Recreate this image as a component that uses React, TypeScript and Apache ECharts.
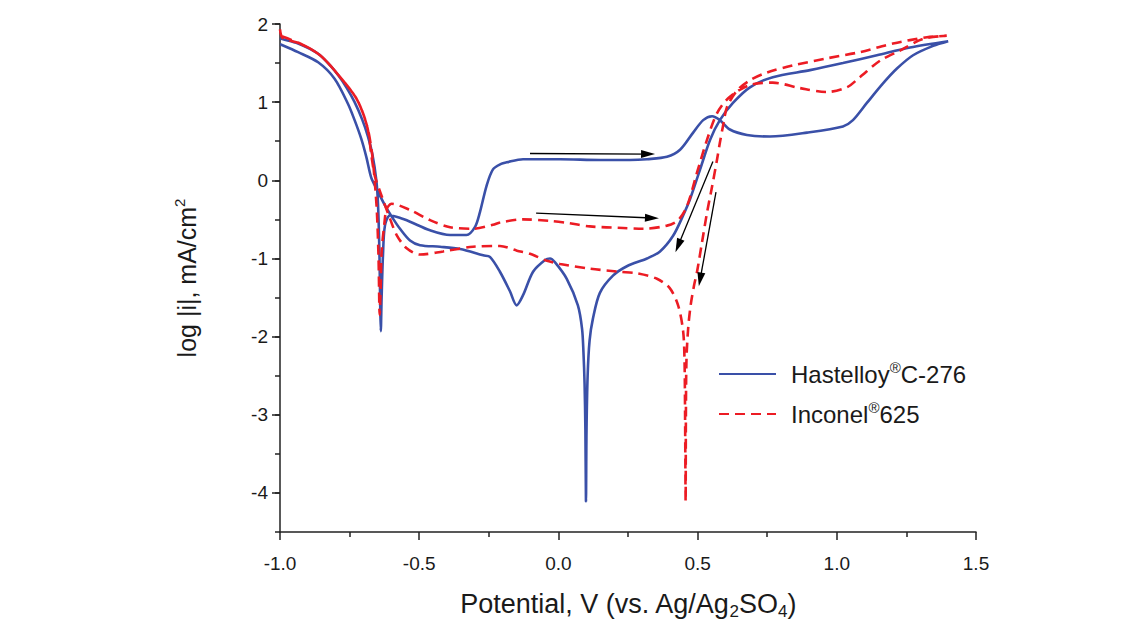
import React, { useEffect, useRef } from "react";
import * as echarts from "echarts";

const seriesNames = ["Hastelloy®C-276", "Inconel®625"];

// Hastelloy C-276: forward then reverse scan, [potential V, log|i|]
const hastelloy: number[][] = [
  [-1.0, 1.82], [-0.995, 1.81], [-0.935, 1.75], [-0.863, 1.62], [-0.82, 1.47],
  [-0.79, 1.34], [-0.76, 1.18], [-0.732, 1.0], [-0.705, 0.78], [-0.684, 0.56],
  [-0.668, 0.33], [-0.654, 0.0], [-0.648, -0.3], [-0.643, -0.9], [-0.64, -1.6],
  [-0.638, -1.93], [-0.635, -1.5], [-0.63, -0.95], [-0.623, -0.58], [-0.605, -0.45],
  [-0.57, -0.48], [-0.533, -0.53], [-0.461, -0.64], [-0.389, -0.7], [-0.33, -0.7],
  [-0.3, -0.6], [-0.282, -0.41], [-0.258, -0.07], [-0.235, 0.14], [-0.206, 0.21],
  [-0.186, 0.23], [-0.127, 0.27], [0.006, 0.27], [0.15, 0.26], [0.257, 0.26],
  [0.318, 0.27], [0.39, 0.3], [0.437, 0.39], [0.484, 0.61], [0.52, 0.77],
  [0.552, 0.82], [0.58, 0.77], [0.616, 0.65], [0.677, 0.58], [0.76, 0.56],
  [0.893, 0.61], [1.022, 0.69], [1.058, 0.77], [1.108, 0.99], [1.166, 1.24],
  [1.216, 1.43], [1.274, 1.6], [1.346, 1.72], [1.4, 1.78],
  [1.263, 1.7], [1.144, 1.6], [1.022, 1.5], [0.904, 1.41], [0.77, 1.32],
  [0.688, 1.19], [0.627, 0.99], [0.58, 0.77], [0.545, 0.52], [0.509, 0.14],
  [0.473, -0.24], [0.448, -0.45], [0.412, -0.71], [0.365, -0.91], [0.318, -1.0],
  [0.246, -1.1], [0.196, -1.22], [0.149, -1.44], [0.124, -1.77], [0.112, -2.05],
  [0.105, -2.5], [0.101, -3.2], [0.099, -4.11], [0.097, -3.2], [0.094, -2.6],
  [0.09, -2.2], [0.085, -1.9], [0.07, -1.6], [0.03, -1.26], [-0.012, -1.05],
  [-0.03, -1.0], [-0.048, -1.02], [-0.091, -1.17], [-0.127, -1.47], [-0.15, -1.6],
  [-0.174, -1.42], [-0.21, -1.17], [-0.246, -0.98], [-0.27, -0.96], [-0.353, -0.88],
  [-0.425, -0.85], [-0.497, -0.83], [-0.533, -0.77], [-0.569, -0.62], [-0.594, -0.49],
  [-0.623, -0.32], [-0.653, -0.11], [-0.672, 0.03], [-0.69, 0.3], [-0.708, 0.53],
  [-0.732, 0.77], [-0.756, 0.98], [-0.804, 1.3], [-0.863, 1.51], [-0.935, 1.64],
  [-0.995, 1.735], [-1.0, 1.74],
];

// Inconel 625: forward then reverse scan
const inconel: number[][] = [
  [-1.0, 1.93], [-0.99, 1.82], [-0.928, 1.75], [-0.856, 1.6], [-0.784, 1.32],
  [-0.723, 1.03], [-0.687, 0.69], [-0.67, 0.36], [-0.66, 0.0], [-0.652, -0.4],
  [-0.646, -1.0], [-0.642, -1.72], [-0.638, -1.3], [-0.635, -0.92], [-0.625, -0.55],
  [-0.617, -0.37], [-0.599, -0.3], [-0.533, -0.38], [-0.461, -0.51], [-0.389, -0.6],
  [-0.307, -0.62], [-0.235, -0.57], [-0.21, -0.54], [-0.127, -0.5], [-0.03, -0.52],
  [0.04, -0.55], [0.113, -0.59], [0.232, -0.61], [0.304, -0.62], [0.39, -0.58],
  [0.43, -0.51], [0.462, -0.33], [0.498, 0.1], [0.534, 0.52], [0.57, 0.86],
  [0.616, 1.07], [0.688, 1.22], [0.77, 1.25], [0.868, 1.18], [0.964, 1.13],
  [1.036, 1.19], [1.083, 1.32], [1.155, 1.53], [1.227, 1.66], [1.31, 1.81],
  [1.395, 1.85],
  [1.324, 1.83], [1.202, 1.75], [1.083, 1.64], [0.964, 1.56], [0.843, 1.47],
  [0.75, 1.38], [0.688, 1.28], [0.642, 1.15], [0.606, 0.94], [0.591, 0.69],
  [0.58, 0.48], [0.57, 0.27], [0.552, -0.08], [0.534, -0.41], [0.516, -0.79],
  [0.498, -1.17], [0.487, -1.35], [0.475, -1.6], [0.466, -1.9], [0.46, -2.3],
  [0.458, -3.0], [0.457, -4.11], [0.455, -3.0], [0.453, -2.3], [0.448, -1.93],
  [0.43, -1.6], [0.4, -1.38], [0.354, -1.26], [0.282, -1.19], [0.221, -1.17],
  [0.113, -1.13], [0.006, -1.07], [-0.041, -1.03], [-0.102, -0.94], [-0.149, -0.9],
  [-0.21, -0.84], [-0.307, -0.85], [-0.414, -0.91], [-0.497, -0.95], [-0.545, -0.87],
  [-0.581, -0.7], [-0.605, -0.49], [-0.635, -0.2], [-0.659, 0.05], [-0.671, 0.3],
  [-0.687, 0.69], [-0.723, 1.03], [-0.784, 1.32], [-0.856, 1.6], [-0.928, 1.75],
  [-1.0, 1.85],
];

// Scan-direction arrows: [start, end] in data coordinates
const arrows: number[][][] = [
  [[-0.102, 0.343], [0.322, 0.336]],
  [[-0.08, -0.419], [0.336, -0.482]],
  [[0.555, 0.241], [0.43, -0.838]],
  [[0.566, -0.152], [0.509, -1.269]],
];

const xTicks = [-1.0, -0.5, 0.0, 0.5, 1.0, 1.5];
const yTicks = [-4, -3, -2, -1, 0, 1, 2];

const FONT = "'Liberation Sans', Arial, Helvetica, sans-serif";
const TEXT = "#1a1a1a";
const BLUE = "#3a50a8";
const RED = "#ec1c24";

export default function App() {
  const ref = useRef<HTMLDivElement>(null);
  useEffect(() => {
    if (!ref.current) return;
    const chart = echarts.init(ref.current, undefined, { renderer: "svg" });
    const option: any = {
      animation: false,
      backgroundColor: "#ffffff",
      textStyle: { fontFamily: FONT },
      grid: { left: 280, right: 162, top: 24, bottom: 90, containLabel: false },
      legend: {
        orient: "vertical",
        left: 718,
        top: 360,
        padding: 0,
        itemWidth: 57,
        itemHeight: 14,
        itemGap: 14,
        data: seriesNames,
        selectedMode: false,
        itemStyle: { opacity: 0, color: "rgba(0,0,0,0)", borderWidth: 0 },
        formatter: (name: string) => {
          const parts = name.split("®");
          return `{h|${parts[0]}}{s|®}{t|${parts[1]}}`;
        },
        textStyle: {
          fontFamily: FONT,
          fontSize: 24,
          color: TEXT,
          rich: {
            h: { fontSize: 24, lineHeight: 28, color: TEXT, fontFamily: FONT, padding: [0, 0, 0, 10] },
            t: { fontSize: 24, lineHeight: 28, color: TEXT, fontFamily: FONT },
            s: { fontSize: 15, lineHeight: 15, color: TEXT, fontFamily: FONT, verticalAlign: "top" },
          },
        },
      },
      xAxis: {
        type: "value",
        min: -1,
        max: 1.5,
        interval: 0.5,
        name: "{t|Potential, V (vs. Ag/Ag}{b|2}{t|SO}{b|4}{t|)}",
        nameLocation: "middle",
        nameGap: 56,
        nameTextStyle: {
          fontSize: 27,
          color: TEXT,
          fontFamily: FONT,
          rich: {
            t: { fontSize: 27, lineHeight: 32, color: TEXT, fontFamily: FONT },
            b: { fontSize: 17, lineHeight: 16, color: TEXT, fontFamily: FONT, verticalAlign: "bottom" },
          },
        },
        axisLine: { show: true, onZero: false, lineStyle: { color: "#222", width: 1.5 } },
        axisTick: { show: true, inside: false, length: 8, lineStyle: { color: "#222", width: 1.5 } },
        minorTick: { show: true, splitNumber: 2, length: 5, lineStyle: { color: "#222", width: 1.5 } },
        axisLabel: {
          fontSize: 19,
          color: TEXT,
          fontFamily: FONT,
          margin: 22,
          customValues: xTicks,
          formatter: (v: number) => v.toFixed(1),
        },
        splitLine: { show: false },
      },
      yAxis: [
        {
          type: "value",
          min: -4.5,
          max: 2,
          name: "{t|log |i|, mA/cm}{p|2}",
          nameLocation: "middle",
          nameGap: 78,
          nameRotate: 90,
          nameTextStyle: {
            fontSize: 25,
            color: TEXT,
            fontFamily: FONT,
            rich: {
              t: { fontSize: 25, lineHeight: 30, color: TEXT, fontFamily: FONT },
              p: { fontSize: 15, lineHeight: 15, color: TEXT, fontFamily: FONT, verticalAlign: "top" },
            },
          },
          axisLine: { show: true, onZero: false, lineStyle: { color: "#222", width: 1.5 } },
          axisTick: { show: true, inside: false, length: 8, customValues: yTicks, lineStyle: { color: "#222", width: 1.5 } },
          axisLabel: {
            fontSize: 19,
            color: TEXT,
            fontFamily: FONT,
            margin: 12,
            customValues: yTicks,
            formatter: (v: number) => String(v),
          },
          splitLine: { show: false },
        },
        {
          type: "value",
          min: -4.5,
          max: 2,
          interval: 0.5,
          position: "left",
          offset: 0,
          axisLine: { show: false, onZero: false },
          axisTick: { show: true, inside: false, length: 5, lineStyle: { color: "#222", width: 1.5 } },
          axisLabel: { show: false },
          splitLine: { show: false },
        },
      ],
      series: [
        {
          name: seriesNames[0],
          type: "line",
          data: hastelloy,
          yAxisIndex: 0,
          symbol: "none",
          showSymbol: false,
          smooth: 0.3,
          lineStyle: { color: BLUE, width: 2.6, type: "solid" },
          itemStyle: { color: BLUE },
          z: 3,
        },
        {
          name: seriesNames[1],
          type: "line",
          data: inconel,
          yAxisIndex: 0,
          symbol: "none",
          showSymbol: false,
          smooth: 0.3,
          lineStyle: { color: RED, width: 2.6, type: [10, 6] },
          itemStyle: { color: RED },
          z: 4,
        },
        {
          name: "arrows",
          type: "line",
          data: [],
          yAxisIndex: 0,
          silent: true,
          markLine: {
            silent: true,
            animation: false,
            symbol: ["none", "triangle"],
            symbolSize: 11,
            label: { show: false },
            lineStyle: { color: "#000", width: 1.3, type: "solid" },
            emphasis: { disabled: true },
            data: arrows.map((a) => [
              { coord: a[0], symbol: "none" },
              { coord: a[1], symbol: "triangle", symbolSize: [8, 14] },
            ]),
          },
          z: 5,
        },
      ],
    };
    chart.setOption(option);
    return () => chart.dispose();
  }, []);
  return (
    <div
      ref={ref}
      style={{ position: "fixed", left: 0, top: 0, width: 1138, height: 625, background: "#fff" }}
    />
  );
}
